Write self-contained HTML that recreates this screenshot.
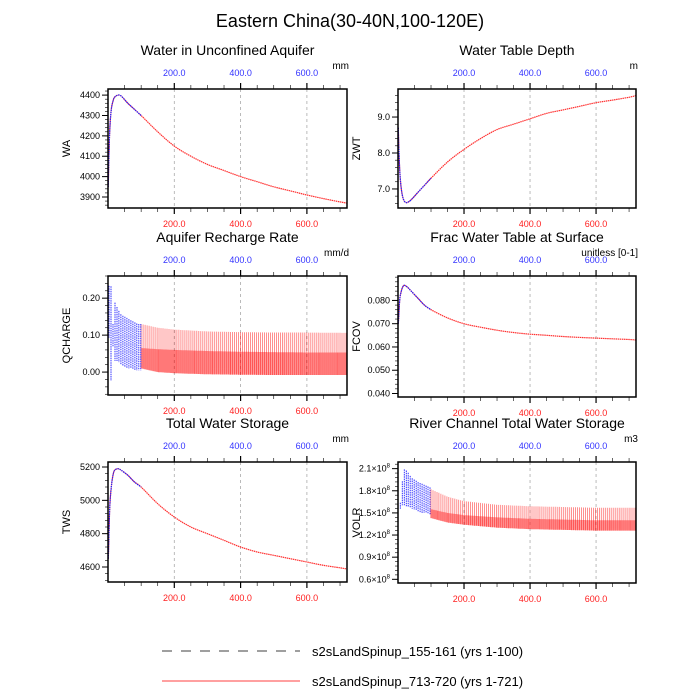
<!DOCTYPE html>
<html><head><meta charset="utf-8"><style>
body{margin:0;background:#fff;}
svg{display:block;font-family:"Liberation Sans",Arial,sans-serif;}
</style></head><body>
<svg id="c" width="700" height="700" viewBox="0 0 700 700">
<text x="350" y="27" font-size="18" text-anchor="middle">Eastern China(30-40N,100-120E)</text>
<g>
<line x1="162" y1="651" x2="300" y2="651" stroke="#000" stroke-width="0.7" stroke-dasharray="10,9"/>
<text x="312" y="656" font-size="13">s2sLandSpinup_155-161 (yrs 1-100)</text>
<line x1="162" y1="681" x2="300" y2="681" stroke="#f00" stroke-width="0.7"/>
<text x="312" y="686" font-size="13">s2sLandSpinup_713-720 (yrs 1-721)</text>
</g>
</svg>
<script>
// ---- data (x in time units 0..721) ----
const waX   = [1,3,6,10,15,20,30,40,60,80,100,150,200,250,300,350,400,450,500,550,600,650,700,721];
const waY   = [3950,4120,4250,4330,4370,4390,4400,4395,4360,4330,4300,4220,4150,4100,4060,4030,4000,3975,3950,3930,3910,3892,3876,3870];
const zwtX  = [1,3,6,10,15,20,25,30,40,60,80,100,150,200,250,300,350,400,450,500,550,600,650,700,721];
const zwtY  = [8.7,8.0,7.4,7.0,6.75,6.65,6.62,6.63,6.7,6.9,7.1,7.3,7.75,8.1,8.4,8.65,8.8,8.95,9.1,9.2,9.3,9.4,9.47,9.55,9.6];
const fcX   = [1,5,10,15,20,30,40,60,80,100,150,200,250,300,350,400,450,500,550,600,650,700,721];
const fcY   = [0.070,0.080,0.084,0.086,0.0865,0.0855,0.084,0.081,0.078,0.076,0.0725,0.070,0.0685,0.0672,0.0662,0.0655,0.065,0.0645,0.0641,0.0638,0.0635,0.0632,0.063];
const twsX  = [1,5,10,15,20,30,40,60,80,100,150,200,250,300,350,400,450,500,550,600,650,700,721];
const twsY  = [4650,4950,5080,5150,5180,5190,5180,5150,5110,5080,4980,4900,4840,4800,4760,4720,4690,4670,4650,4630,4610,4595,4588];
// oscillating series envelopes
const qcX    = [0,20,40,60,100,150,200,300,400,500,600,721];
const qcHi   = [0.17,0.15,0.14,0.135,0.13,0.12,0.115,0.11,0.108,0.107,0.107,0.106];
const qcLo   = [0.09,0.06,0.03,0.015,0.01,0.0,-0.003,-0.006,-0.007,-0.008,-0.008,-0.008];
const qcMid  = [0.12,0.09,0.075,0.07,0.065,0.062,0.06,0.057,0.055,0.054,0.053,0.053];
const qcbX   = [2,5,10,15,20,30,40,50,60,70,80,90,100];
const qcbHi  = [0.24,0.22,0.235,0.13,0.19,0.17,0.155,0.15,0.145,0.14,0.135,0.13,0.13];
const qcbLo  = [0.1,0.08,-0.05,0.07,0.03,0.03,0.02,0.015,0.01,0.01,0.005,0.005,0.005];
const vrX    = [0,20,50,100,150,200,300,400,500,600,721];
const vrHi   = [1.9,1.9,1.85,1.82,1.72,1.66,1.61,1.59,1.58,1.57,1.57];
const vrLo   = [1.5,1.5,1.47,1.43,1.37,1.34,1.3,1.28,1.27,1.26,1.26];
const vrMid  = [1.65,1.65,1.6,1.55,1.5,1.47,1.44,1.42,1.41,1.4,1.4];
const vrbX   = [1,3,6,10,15,20,30,40,50,60,70,80,90,100];
const vrbHi  = [0.8,1.4,1.6,1.75,2.05,2.1,2.05,1.98,1.95,1.92,1.9,1.88,1.86,1.84];
const vrbLo  = [0.8,1.2,1.55,1.58,1.62,1.6,1.58,1.56,1.54,1.52,1.5,1.5,1.49,1.48];

const NS='http://www.w3.org/2000/svg';
const svg=document.getElementById('c');
function el(t,a,p){const e=document.createElementNS(NS,t);for(const k in a)e.setAttribute(k,a[k]);(p||svg).appendChild(e);return e;}
function interp(xs,ys,x){if(x<=xs[0])return ys[0];for(let i=1;i<xs.length;i++){if(x<=xs[i]){const t=(x-xs[i-1])/(xs[i]-xs[i-1]);return ys[i-1]+t*(ys[i]-ys[i-1]);}}return ys[ys.length-1];}

const panels=[
 {id:'wa',title:'Water in Unconfined Aquifer',unit:'mm',ylab:'WA',x0:108,x1:347,y0:89,y1:208,ymin:3846,ymax:4430,ticks:[3900,4000,4100,4200,4300,4400],minor:20,fmt:v=>String(v)},
 {id:'zwt',title:'Water Table Depth',unit:'m',ylab:'ZWT',x0:398,x1:636,y0:89,y1:208,ymin:6.47,ymax:9.78,ticks:[7,8,9],minor:0.2,fmt:v=>v.toFixed(1)},
 {id:'qcharge',title:'Aquifer Recharge Rate',unit:'mm/d',ylab:'QCHARGE',x0:108,x1:347,y0:276,y1:395,ymin:-0.062,ymax:0.26,ticks:[0,0.1,0.2],minor:0.02,fmt:v=>v.toFixed(2)},
 {id:'fcov',title:'Frac Water Table at Surface',unit:'unitless [0-1]',ylab:'FCOV',x0:398,x1:636,y0:276,y1:397,ymin:0.0385,ymax:0.0905,ticks:[0.04,0.05,0.06,0.07,0.08],minor:0.002,fmt:v=>v.toFixed(3)},
 {id:'tws',title:'Total Water Storage',unit:'mm',ylab:'TWS',x0:108,x1:347,y0:462,y1:582,ymin:4510,ymax:5230,ticks:[4600,4800,5000,5200],minor:40,fmt:v=>String(v)},
 {id:'volr',title:'River Channel Total Water Storage',unit:'m3',ylab:'VOLR',x0:398,x1:636,y0:462,y1:583,ymin:0.55,ymax:2.19,ticks:[0.6,0.9,1.2,1.5,1.8,2.1],minor:0.06,fmt:null}
];
const XMAX=721, xt=[200,400,600];

panels.forEach(p=>{
 const g=el('g',{});
 
 
 const X=v=>p.x0+(v/XMAX)*(p.x1-p.x0);
 const Y=v=>p.y1-(v-p.ymin)/(p.ymax-p.ymin)*(p.y1-p.y0);
 p.X=X;p.Y=Y;p.g=g;
 const cx=(p.x0+p.x1)/2;
 const t=el('text',{x:cx,y:p.y0-34,'font-size':14,'text-anchor':'middle'},g);t.textContent=p.title;
 
 const u=el('text',{x:p.x1+2,y:p.y0-20,'font-size':10,'text-anchor':'end'},g);u.textContent=p.unit;
 
 const yl=el('text',{x:0,y:0,'font-size':11,'text-anchor':'middle',transform:`translate(${p.x0-38},${(p.y0+p.y1)/2}) rotate(-90)`},g);yl.textContent=p.ylab;
 
 xt.forEach(v=>{const l=el('line',{x1:X(v),x2:X(v),y1:p.y0,y2:p.y1,stroke:'#aaa','stroke-width':0.8,'stroke-dasharray':'3,3'},g);
  });
 for(let v=50;v<XMAX;v+=50){const maj=v%200===0;const L=maj?6:4;
  el('line',{x1:X(v),x2:X(v),y1:p.y1,y2:p.y1+L,stroke:'#000','stroke-width':maj?1.2:0.6},g);
  el('line',{x1:X(v),x2:X(v),y1:p.y0,y2:p.y0-L,stroke:'#000','stroke-width':maj?1.2:0.6},g);}
 xt.forEach(v=>{
  const a=el('text',{x:X(v),y:p.y0-13,'font-size':9,fill:'#3333ff','text-anchor':'middle'},g);a.textContent=v.toFixed(1);
  
  const b=el('text',{x:X(v),y:p.y1+19,'font-size':9,fill:'#ff2020','text-anchor':'middle'},g);b.textContent=v.toFixed(1);
  });
 const start=Math.ceil(p.ymin/p.minor)*p.minor;
 for(let v=start;v<=p.ymax;v+=p.minor){el('line',{x1:p.x0,x2:p.x0-3,y1:Y(v),y2:Y(v),stroke:'#000','stroke-width':0.6},g);}
 p.ticks.forEach(v=>{
  el('line',{x1:p.x0,x2:p.x0-6,y1:Y(v),y2:Y(v),stroke:'#000','stroke-width':1},g);
  const tx=el('text',{x:p.x0-8,y:Y(v)+3,'font-size':9,'text-anchor':'end'},g);
  if(p.fmt){tx.textContent=p.fmt(v);}else{tx.textContent=v.toFixed(1)+'\u00d710';const s=el('tspan',{dy:-4,'font-size':6},tx);s.textContent='8';}
  });
});

function smooth(p,xs,ys,color,w,maxX,name,dash){
 const pts=[];for(let i=0;i<xs.length;i++){if(xs[i]<=maxX)pts.push([p.X(xs[i]),p.Y(ys[i])]);}
 let d='M'+pts[0][0].toFixed(1)+','+pts[0][1].toFixed(1);
 for(let i=0;i<pts.length-1;i++){
  const p0=pts[Math.max(0,i-1)],p1=pts[i],p2=pts[i+1],p3=pts[Math.min(pts.length-1,i+2)];
  const c1=[p1[0]+(p2[0]-p0[0])/6,p1[1]+(p2[1]-p0[1])/6],c2=[p2[0]-(p3[0]-p1[0])/6,p2[1]-(p3[1]-p1[1])/6];
  d+=`C${c1[0].toFixed(1)},${c1[1].toFixed(1)} ${c2[0].toFixed(1)},${c2[1].toFixed(1)} ${p2[0].toFixed(1)},${p2[1].toFixed(1)}`;
 }
 const l=el('path',{d:d,fill:'none',stroke:color,'stroke-width':w},p.g);
 if(dash)l.setAttribute('stroke-dasharray',dash);
 
}
function spikes(p,xs,hi,lo,color,step,from,to,op,w,name,dash){
 const g=el('g',{},p.g);
 let d='';
 for(let x=from;x<=to;x+=step){const a=interp(xs,hi,x),b=interp(xs,lo,x);d+=`M${p.X(x).toFixed(1)},${p.Y(a).toFixed(1)}V${p.Y(b).toFixed(1)}`;}
 const e=el('path',{d:d,stroke:color,'stroke-width':w,'stroke-opacity':op,fill:'none'},g);
 if(dash)e.setAttribute('stroke-dasharray',dash);
}
const P={};panels.forEach(p=>P[p.id]=p);
smooth(P.wa,waX,waY,'#ff3030',1.2,721,'wa-series-713-720','1.5,0.6');
smooth(P.wa,waX,waY,'#2020ff',1.2,100,'wa-series-155-161','1.5,0.8');
smooth(P.zwt,zwtX,zwtY,'#ff3030',1.2,721,'zwt-series-713-720','1.5,0.6');
smooth(P.zwt,zwtX,zwtY,'#2020ff',1.2,100,'zwt-series-155-161','1.5,0.8');
smooth(P.fcov,fcX,fcY,'#ff3030',1.2,721,'fcov-series-713-720','1.5,0.6');
smooth(P.fcov,fcX,fcY,'#2020ff',1.2,100,'fcov-series-155-161','1.5,0.8');
smooth(P.tws,twsX,twsY,'#ff3030',1.2,721,'tws-series-713-720','1.5,0.6');
smooth(P.tws,twsX,twsY,'#2020ff',1.2,100,'tws-series-155-161','1.5,0.8');
// QCHARGE
spikes(P.qcharge,qcX,qcHi,qcLo,'#ff0000',6,100,719,0.55,0.8,'qcharge-series-713-720');
spikes(P.qcharge,qcX,qcMid,qcLo,'#ff0000',3,100,719,0.5,0.8,'qcharge-series-713-720-band');
spikes(P.qcharge,qcbX,qcbHi,qcbLo,'#1010ff',6,3,100,0.95,0.9,'qcharge-series-155-161','1.5,0.8');
// VOLR
spikes(P.volr,vrX,vrHi,vrLo,'#ff0000',6,100,719,0.55,0.8,'volr-series-713-720');
spikes(P.volr,vrX,vrMid,vrLo,'#ff0000',3,100,719,0.5,0.8,'volr-series-713-720-band');
spikes(P.volr,vrbX,vrbHi,vrbLo,'#1010ff',6,1,100,0.95,0.9,'volr-series-155-161','1.5,0.8');
panels.forEach(p=>{const r=el('rect',{x:p.x0,y:p.y0,width:p.x1-p.x0,height:p.y1-p.y0,fill:'none',stroke:'#000','stroke-width':1.5},p.g);
 });
</script>
</body></html>
